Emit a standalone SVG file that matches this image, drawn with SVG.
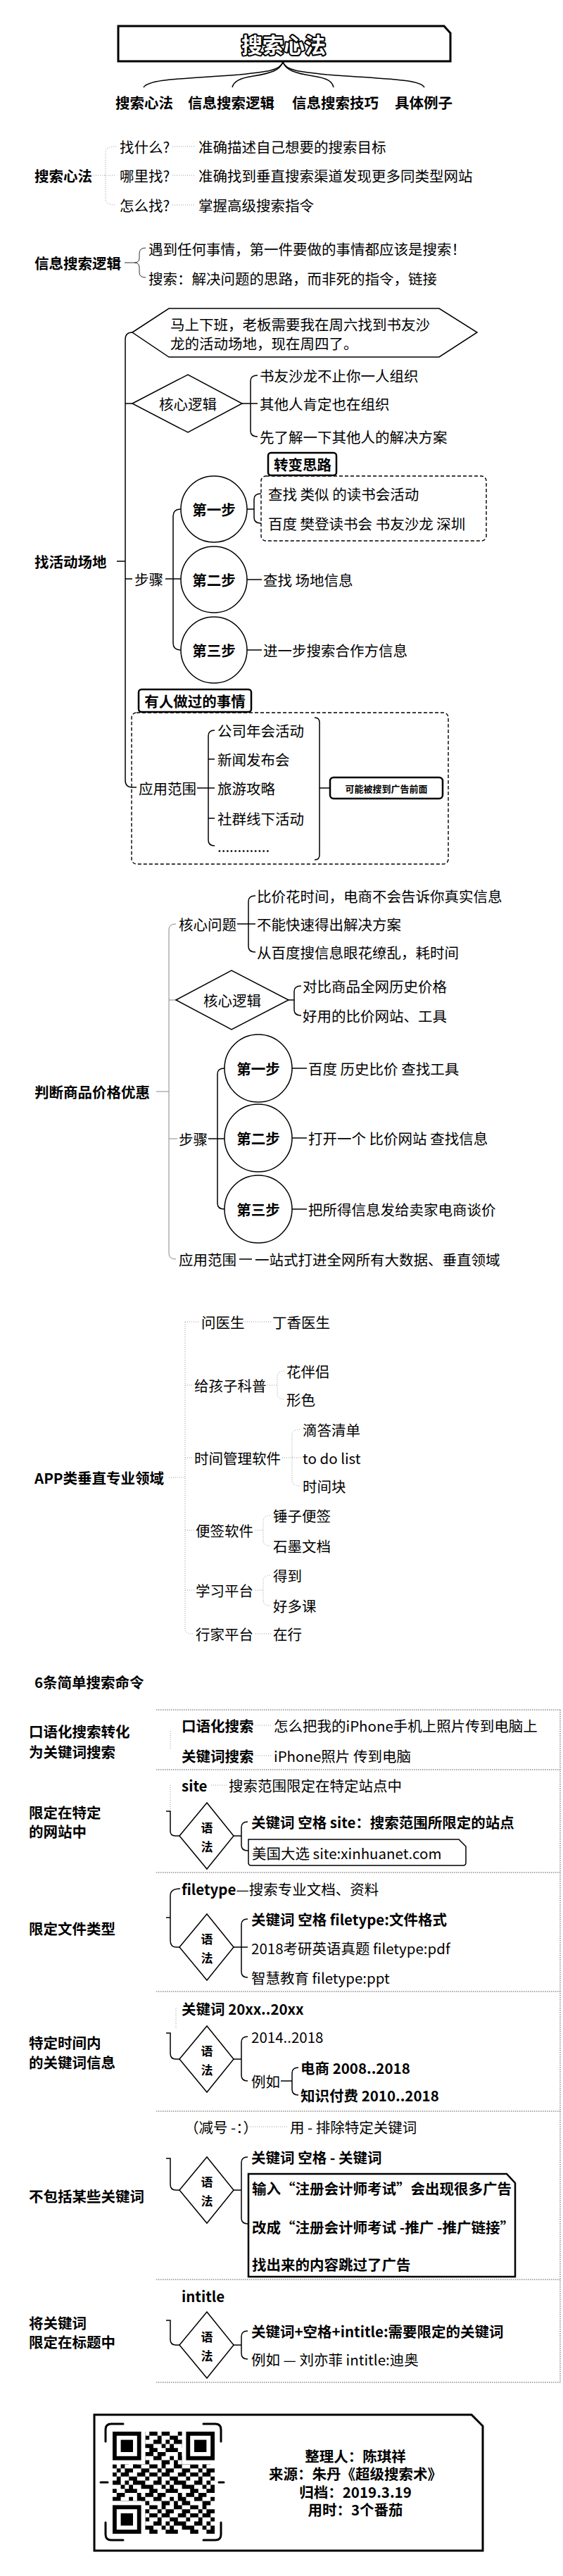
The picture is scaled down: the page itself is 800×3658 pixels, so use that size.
<svg xmlns="http://www.w3.org/2000/svg" width="800" height="3658" viewBox="0 0 800 3658">
<style>
.t{font-family:"Noto Sans CJK SC","Noto Sans",sans-serif;font-size:20.5px;fill:#000;dominant-baseline:central}
.b{font-weight:700}
.m{text-anchor:middle}
.ln{fill:none;stroke:#000;stroke-width:1.5}
.sh{fill:#fff;stroke:#000;stroke-width:1.5}
.fa{fill:none;stroke:#999;stroke-width:1;stroke-dasharray:1 2}
.gr{fill:none;stroke:#888;stroke-width:1}
.dash{fill:none;stroke:#000;stroke-width:1.4;stroke-dasharray:5 3}
.sep{fill:none;stroke:#555;stroke-width:1;stroke-dasharray:1.5 1.5}
.bx{fill:#fff;stroke:#000;stroke-width:2.5}
</style>
<defs>
<pattern id="qr" width="10" height="10" patternUnits="userSpaceOnUse" patternTransform="translate(160,3453) scale(5.8)">
<path fill="#000" d="M0,0h1v1h-1zM2,0h2v1h-2zM6,0h2v1h-2zM9,0h1v1h-1zM1,1h1v1h-1zM4,1h2v1h-2zM8,1h1v1h-1zM0,2h2v1h-2zM3,2h1v1h-1zM5,2h3v1h-3zM2,3h1v1h-1zM4,3h1v1h-1zM7,3h3v1h-3zM0,4h1v1h-1zM3,4h3v1h-3zM9,4h1v1h-1zM1,5h2v1h-2zM6,5h1v1h-1zM8,5h2v1h-2zM0,6h2v1h-2zM4,6h1v1h-1zM6,6h2v1h-2zM2,7h2v1h-2zM5,7h1v1h-1zM7,7h2v1h-2zM0,8h1v1h-1zM2,8h1v1h-1zM5,8h2v1h-2zM9,8h1v1h-1zM1,9h1v1h-1zM3,9h2v1h-2zM7,9h2v1h-2z"/>
</pattern>
</defs>
<rect width="800" height="3658" fill="#fff"/>

<g id="connectors">
<!-- title curves -->
<path class="ln" d="M402,88 C398,100 380,102 340,106 C260,112 212,112 204,124"/>
<path class="ln" d="M402,88 C398,100 385,104 360,108 C340,111 332,116 330,124"/>
<path class="ln" d="M402,88 C406,100 420,104 445,108 C466,111 472,116 474,124"/>
<path class="ln" d="M402,88 C406,100 425,102 465,106 C560,113 596,113 603,124"/>
<!-- 搜索心法 section -->
<path class="fa" d="M133,249 H150 M165,208 Q150,208 150,216 V283 Q150,291 165,291 M150,249 H165 M245,208 H278 M245,249 H278 M245,291 H278"/>
<!-- 信息搜索逻辑 -->
<path fill="none" stroke="#333" stroke-width="1" d="M177,373 H191 M207,352 Q198,352 198,360 V366 Q198,373 191,373 Q198,373 198,380 V387 Q198,394 207,394"/>
<!-- 找活动场地 -->
<path class="ln" d="M188,472 Q178,472 178,482 V1108 Q178,1118 188,1118 H194 M178,573 H188 M178,822 H188 M166,797 H178"/>
<path class="ln" d="M344,573 H356 M366,533 Q356,533 356,541 V612 Q356,620 366,620 M356,573 H366"/>
<path class="ln" d="M235,822 H257 M257,723 Q246,723 246,733 V913 Q246,923 257,923"/>
<path class="ln" d="M351,723 H361 M371,701 Q361,701 361,709 V735 Q361,743 371,743"/>
<path class="ln" d="M351,823 H372 M351,923 H372"/>
<path class="ln" d="M280,1119 H296 M305,1037 Q296,1037 296,1045 V1193 Q296,1201 305,1201 M296,1078 H305 M296,1119 H305 M296,1162 H305"/>
<path class="ln" d="M447,1019 Q454,1019 454,1026 V1214 Q454,1221 447,1221 M454,1119 H469"/>
<!-- 判断商品价格优惠 -->
<path class="gr" d="M222,1550 H240 M250,1312 Q240,1312 240,1320 V1780 Q240,1788 250,1788 M240,1420 H250 M240,1617 H252"/>
<path class="ln" d="M337,1312 H353 M363,1272 Q353,1272 353,1280 V1344 Q353,1352 363,1352 M353,1312 H363"/>
<path class="ln" d="M410,1420 H418 M428,1400 Q418,1400 418,1408 V1434 Q418,1442 428,1442"/>
<path class="ln" d="M296,1617 H319 M319,1517 Q309,1517 309,1525 V1709 Q309,1717 319,1717"/>
<path class="ln" d="M415,1517 H436 M415,1616 H436 M415,1717 H436 M340,1788 H358"/>
<!-- APP -->
<path class="fa" d="M240,2098 H263 M263,1877 V2312 Q263,2320 271,2320 H276 M263,1877 H282 M263,1967 H274 M263,2070 H274 M263,2173 H276 M263,2258 H276"/>
<path class="fa" d="M345,1877 H385 M380,1967 H394 M404,1947 Q394,1947 394,1955 V1979 Q394,1987 404,1987"/>
<path class="fa" d="M401,2070 H415 M426,2030 Q415,2030 415,2038 V2102 Q415,2110 426,2110 M415,2070 H428"/>
<path class="fa" d="M363,2173 H374 M384,2152 Q374,2152 374,2160 V2187 Q374,2195 384,2195"/>
<path class="fa" d="M363,2258 H374 M384,2237 Q374,2237 374,2245 V2272 Q374,2280 384,2280 M363,2320 H386"/>
<!-- 6条 table -->
<path class="sep" d="M222,2428 H796 M796,2428 V3383 M222,2513 H796 M222,2659 H796 M222,2828 H796 M222,2998 H796 M222,3237 H796 M222,3383 H796"/>
<path class="fa" d="M363,2450 H386 M363,2493 H386 M242,2458 V2485 M300,2535 H322 M242,2535 V2570 M250,2852 V2880 M350,3020 H410"/>
<path class="ln" d="M236,2572 H242 V2600 Q242,2607 249,2607 H255"/>
<path class="ln" d="M332,2607 H343 M352,2587 Q343,2587 343,2595 V2620 Q343,2628 352,2628 H354"/>
<path class="ln" d="M256,2682 Q242,2682 242,2692 V2755 Q242,2765 250,2765 H255 M236,2723 H242"/>
<path class="ln" d="M332,2765 H352 M352,2725 Q343,2725 343,2733 V2800 Q343,2808 352,2808"/>
<path class="ln" d="M236,2887 H242 V2916 Q242,2924 250,2924 H255"/>
<path class="ln" d="M332,2924 H343 M352,2892 Q343,2892 343,2900 V2947 Q343,2955 352,2955 M399,2955 H415 M424,2936 Q415,2936 415,2944 V2967 Q415,2975 424,2975"/>
<path class="ln" d="M236,3065 H242 V3102 Q242,3110 250,3110 H255"/>
<path class="ln" d="M332,3110 H343 M352,3063 Q343,3063 343,3071 V3150 Q343,3158 353,3158"/>
<path class="ln" d="M236,3295 H242 V3322 Q242,3330 250,3330 H255"/>
<path class="ln" d="M332,3330 H343 M352,3310 Q343,3310 343,3318 V3342 Q343,3350 352,3350"/>
</g>

<g id="title">
<path d="M168,37 H631 L640,47 V87 H168 Z" fill="#fff" stroke="#000" stroke-width="3"/>
<text class="t b m" x="403" y="62" style="font-size:30px;fill:#fff;stroke:#000;stroke-width:4;paint-order:stroke;stroke-linejoin:round">搜索心法</text>
</g>
<g id="branches">
<text class="t b" x="164" y="145">搜索心法</text>
<text class="t b" x="267" y="145">信息搜索逻辑</text>
<text class="t b" x="415" y="145">信息搜索技巧</text>
<text class="t b" x="561" y="145">具体例子</text>
</g>

<g id="sec-xinfa">
<text class="t b" x="49" y="249">搜索心法</text>
<text class="t" x="170" y="208">找什么?</text>
<text class="t" x="170" y="249">哪里找?</text>
<text class="t" x="170" y="291">怎么找?</text>
<text class="t" x="282" y="208">准确描述自己想要的搜索目标</text>
<text class="t" x="282" y="249">准确找到垂直搜索渠道发现更多同类型网站</text>
<text class="t" x="282" y="291">掌握高级搜索指令</text>
</g>

<g id="sec-luoji">
<text class="t b" x="49" y="373">信息搜索逻辑</text>
<text class="t" x="211" y="353">遇到任何事情，第一件要做的事情都应该是搜索！</text>
<text class="t" x="211" y="395">搜索：解决问题的思路，而非死的指令，链接</text>
</g>

<g id="sec-changdi">
<text class="t b" x="49" y="797">找活动场地</text>
<g id="hex">
<polygon class="sh" points="188,472 240,438 624,438 678,472 624,507 240,507"/>
<text class="t" x="242" y="460">马上下班，老板需要我在周六找到书友沙</text>
<text class="t" x="242" y="487">龙的活动场地，现在周四了。</text>
</g>
<g id="core1">
<polygon class="sh" points="188,573 267,532 344,573 267,614"/>
<text class="t m" x="267" y="573">核心逻辑</text>
<text class="t" x="369" y="533">书友沙龙不止你一人组织</text>
<text class="t" x="369" y="573">其他人肯定也在组织</text>
<text class="t" x="369" y="620">先了解一下其他人的解决方案</text>
</g>
<g id="steps1">
<text class="t" x="191" y="822">步骤</text>
<rect x="381" y="643" width="97" height="32" rx="4" class="bx"/>
<text class="t b m" x="430" y="659">转变思路</text>
<rect x="371" y="676" width="320" height="92" rx="7" class="dash"/>
<circle cx="304" cy="723" r="47" class="sh"/>
<text class="t b m" x="304" y="723">第一步</text>
<circle cx="304" cy="823" r="47" class="sh"/>
<text class="t b m" x="304" y="823">第二步</text>
<circle cx="304" cy="923" r="47" class="sh"/>
<text class="t b m" x="304" y="923">第三步</text>
<text class="t" x="381" y="701">查找 类似 的读书会活动</text>
<text class="t" x="381" y="743">百度 樊登读书会 书友沙龙 深圳</text>
<text class="t" x="374" y="823">查找 场地信息</text>
<text class="t" x="374" y="923">进一步搜索合作方信息</text>
</g>
<g id="scope1">
<rect x="197" y="979" width="160" height="32" rx="4" class="bx"/>
<text class="t b m" x="277" y="995">有人做过的事情</text>
<rect x="187" y="1012" width="450" height="215" rx="7" class="dash"/>
<text class="t" x="197" y="1119">应用范围</text>
<text class="t" x="309" y="1037">公司年会活动</text>
<text class="t" x="309" y="1078">新闻发布会</text>
<text class="t" x="309" y="1119">旅游攻略</text>
<text class="t" x="309" y="1162">社群线下活动</text>
<text class="t" x="309" y="1201">.............</text>
<rect x="469" y="1104" width="160" height="30" rx="5" class="bx"/>
<text class="t b m" x="549" y="1119" style="font-size:13px">可能被搜到广告前面</text>
</g>
</g>

<g id="sec-price">
<text class="t b" x="49" y="1550">判断商品价格优惠</text>
<text class="t" x="254" y="1312">核心问题</text>
<text class="t" x="365" y="1272">比价花时间，电商不会告诉你真实信息</text>
<text class="t" x="365" y="1312">不能快速得出解决方案</text>
<text class="t" x="365" y="1352">从百度搜信息眼花缭乱，耗时间</text>
<polygon class="sh" points="250,1420 329,1378 410,1420 329,1462"/>
<text class="t m" x="330" y="1420">核心逻辑</text>
<text class="t" x="430" y="1400">对比商品全网历史价格</text>
<text class="t" x="430" y="1442">好用的比价网站、工具</text>
<text class="t" x="254" y="1617">步骤</text>
<circle cx="367" cy="1517" r="48" class="sh"/>
<text class="t b m" x="367" y="1517">第一步</text>
<circle cx="367" cy="1616" r="48" class="sh"/>
<text class="t b m" x="367" y="1616">第二步</text>
<circle cx="367" cy="1717" r="48" class="sh"/>
<text class="t b m" x="367" y="1717">第三步</text>
<text class="t" x="438" y="1517">百度 历史比价 查找工具</text>
<text class="t" x="438" y="1616">打开一个 比价网站 查找信息</text>
<text class="t" x="438" y="1717">把所得信息发给卖家电商谈价</text>
<text class="t" x="254" y="1788">应用范围</text>
<text class="t" x="362" y="1788">一站式打进全网所有大数据、垂直领域</text>
</g>

<g id="sec-app">
<text class="t b" x="49" y="2098">APP类垂直专业领域</text>
<text class="t" x="286" y="1877">问医生</text>
<text class="t" x="387" y="1877">丁香医生</text>
<text class="t" x="276" y="1967">给孩子科普</text>
<text class="t" x="407" y="1947">花伴侣</text>
<text class="t" x="407" y="1987">形色</text>
<text class="t" x="276" y="2070">时间管理软件</text>
<text class="t" x="430" y="2030">滴答清单</text>
<text class="t" x="430" y="2070">to do list</text>
<text class="t" x="430" y="2110">时间块</text>
<text class="t" x="278" y="2173">便签软件</text>
<text class="t" x="388" y="2152">锤子便签</text>
<text class="t" x="388" y="2195">石墨文档</text>
<text class="t" x="278" y="2258">学习平台</text>
<text class="t" x="388" y="2237">得到</text>
<text class="t" x="388" y="2280">好多课</text>
<text class="t" x="278" y="2320">行家平台</text>
<text class="t" x="388" y="2320">在行</text>
</g>

<g id="sec-cmd">
<text class="t b" x="49" y="2388">6条简单搜索命令</text>
<g id="row1">
<text class="t b" x="41" y="2458">口语化搜索转化</text>
<text class="t b" x="41" y="2487">为关键词搜索</text>
<text class="t b" x="258" y="2450">口语化搜索</text>
<text class="t" x="389" y="2450">怎么把我的iPhone手机上照片传到电脑上</text>
<text class="t b" x="258" y="2493">关键词搜索</text>
<text class="t" x="389" y="2493">iPhone照片 传到电脑</text>
</g>
<g id="row2">
<text class="t b" x="41" y="2573">限定在特定</text>
<text class="t b" x="41" y="2600">的网站中</text>
<text class="t b" x="258" y="2535">site</text>
<text class="t" x="325" y="2535">搜索范围限定在特定站点中</text>
<polygon class="sh" points="255,2607 294,2560 332,2607 294,2654"/>
<text class="t b m" x="294" y="2594" style="font-size:17px">语</text>
<text class="t b m" x="294" y="2621" style="font-size:17px">法</text>
<text class="t b" x="357" y="2587">关键词 空格 site：搜索范围所限定的站点</text>
<path d="M353,2612 H652 L662,2622 V2645 Q662,2649 658,2649 H357 Q353,2649 353,2645 Z" class="sh"/>
<text class="t" x="358" y="2631">美国大选 site:xinhuanet.com</text>
</g>
<g id="row3">
<text class="t b" x="41" y="2738">限定文件类型</text>
<text class="t" x="258" y="2682"><tspan class="b">filetype</tspan>—搜索专业文档、资料</text>
<polygon class="sh" points="255,2765 294,2718 332,2765 294,2812"/>
<text class="t b m" x="294" y="2752" style="font-size:17px">语</text>
<text class="t b m" x="294" y="2779" style="font-size:17px">法</text>
<text class="t b" x="357" y="2725">关键词 空格 filetype:文件格式</text>
<text class="t" x="357" y="2766">2018考研英语真题 filetype:pdf</text>
<text class="t" x="357" y="2808">智慧教育 filetype:ppt</text>
</g>
<g id="row4">
<text class="t b" x="41" y="2900">特定时间内</text>
<text class="t b" x="41" y="2928">的关键词信息</text>
<text class="t b" x="258" y="2852">关键词 20xx..20xx</text>
<polygon class="sh" points="255,2924 294,2877 332,2924 294,2971"/>
<text class="t b m" x="294" y="2911" style="font-size:17px">语</text>
<text class="t b m" x="294" y="2938" style="font-size:17px">法</text>
<text class="t" x="357" y="2892">2014..2018</text>
<text class="t" x="357" y="2955">例如</text>
<text class="t b" x="427" y="2936">电商 2008..2018</text>
<text class="t b" x="427" y="2975">知识付费 2010..2018</text>
</g>
<g id="row5">
<text class="t b" x="41" y="3118">不包括某些关键词</text>
<text class="t" x="262" y="3020">（减号 -：）</text>
<text class="t" x="412" y="3020">用 - 排除特定关键词</text>
<polygon class="sh" points="255,3110 294,3063 332,3110 294,3157"/>
<text class="t b m" x="294" y="3097" style="font-size:17px">语</text>
<text class="t b m" x="294" y="3124" style="font-size:17px">法</text>
<text class="t b" x="357" y="3063">关键词 空格 - 关键词</text>
<path d="M353,3087 H720 L732,3100 V3233 H353 Z" class="bx"/>
<text class="t b" x="358" y="3107">输入“注册会计师考试”会出现很多广告</text>
<text class="t b" x="358" y="3162">改成“注册会计师考试 -推广 -推广链接”</text>
<text class="t b" x="358" y="3215">找出来的内容跳过了广告</text>
</g>
<g id="row6">
<text class="t b" x="41" y="3298">将关键词</text>
<text class="t b" x="41" y="3325">限定在标题中</text>
<text class="t b" x="258" y="3260">intitle</text>
<polygon class="sh" points="255,3330 294,3283 332,3330 294,3377"/>
<text class="t b m" x="294" y="3317" style="font-size:17px">语</text>
<text class="t b m" x="294" y="3344" style="font-size:17px">法</text>
<text class="t b" x="357" y="3310">关键词+空格+intitle:需要限定的关键词</text>
<text class="t" x="357" y="3350">例如 — 刘亦菲 intitle:迪奥</text>
</g>
</g>

<g id="footer">
<path d="M134,3429 H670 L686,3445 V3622 H134 Z" fill="#fff" stroke="#000" stroke-width="3"/>
<g id="qrcode">
<path fill="none" stroke="#000" stroke-width="3" stroke-linecap="round" d="M150,3467 V3450 Q150,3442 158,3442 H175 M289,3442 H306 Q314,3442 314,3450 V3467 M314,3582 V3599 Q314,3607 306,3607 H289 M175,3607 H158 Q150,3607 150,3599 V3582 M143,3525 H153 M311,3525 H318"/>
<rect x="160" y="3453" width="145" height="145" fill="url(#qr)"/>
<rect x="160" y="3453" width="46.4" height="46.4" fill="#fff"/>
<rect x="162.9" y="3455.9" width="34.8" height="34.8" fill="none" stroke="#000" stroke-width="5.8"/>
<rect x="171.6" y="3464.6" width="17.4" height="17.4" fill="#000"/>
<rect x="258.6" y="3453" width="46.4" height="46.4" fill="#fff"/>
<rect x="267.3" y="3455.9" width="34.8" height="34.8" fill="none" stroke="#000" stroke-width="5.8"/>
<rect x="276" y="3464.6" width="17.4" height="17.4" fill="#000"/>
<rect x="160" y="3551.6" width="46.4" height="46.4" fill="#fff"/>
<rect x="162.9" y="3560.3" width="34.8" height="34.8" fill="none" stroke="#000" stroke-width="5.8"/>
<rect x="171.6" y="3569" width="17.4" height="17.4" fill="#000"/>
</g>
<text class="t b m" x="505" y="3487">整理人：陈琪祥</text>
<text class="t b m" x="505" y="3512">来源：朱丹《超级搜索术》</text>
<text class="t b m" x="505" y="3538">归档：2019.3.19</text>
<text class="t b m" x="505" y="3563">用时：3个番茄</text>
</g>
</svg>
